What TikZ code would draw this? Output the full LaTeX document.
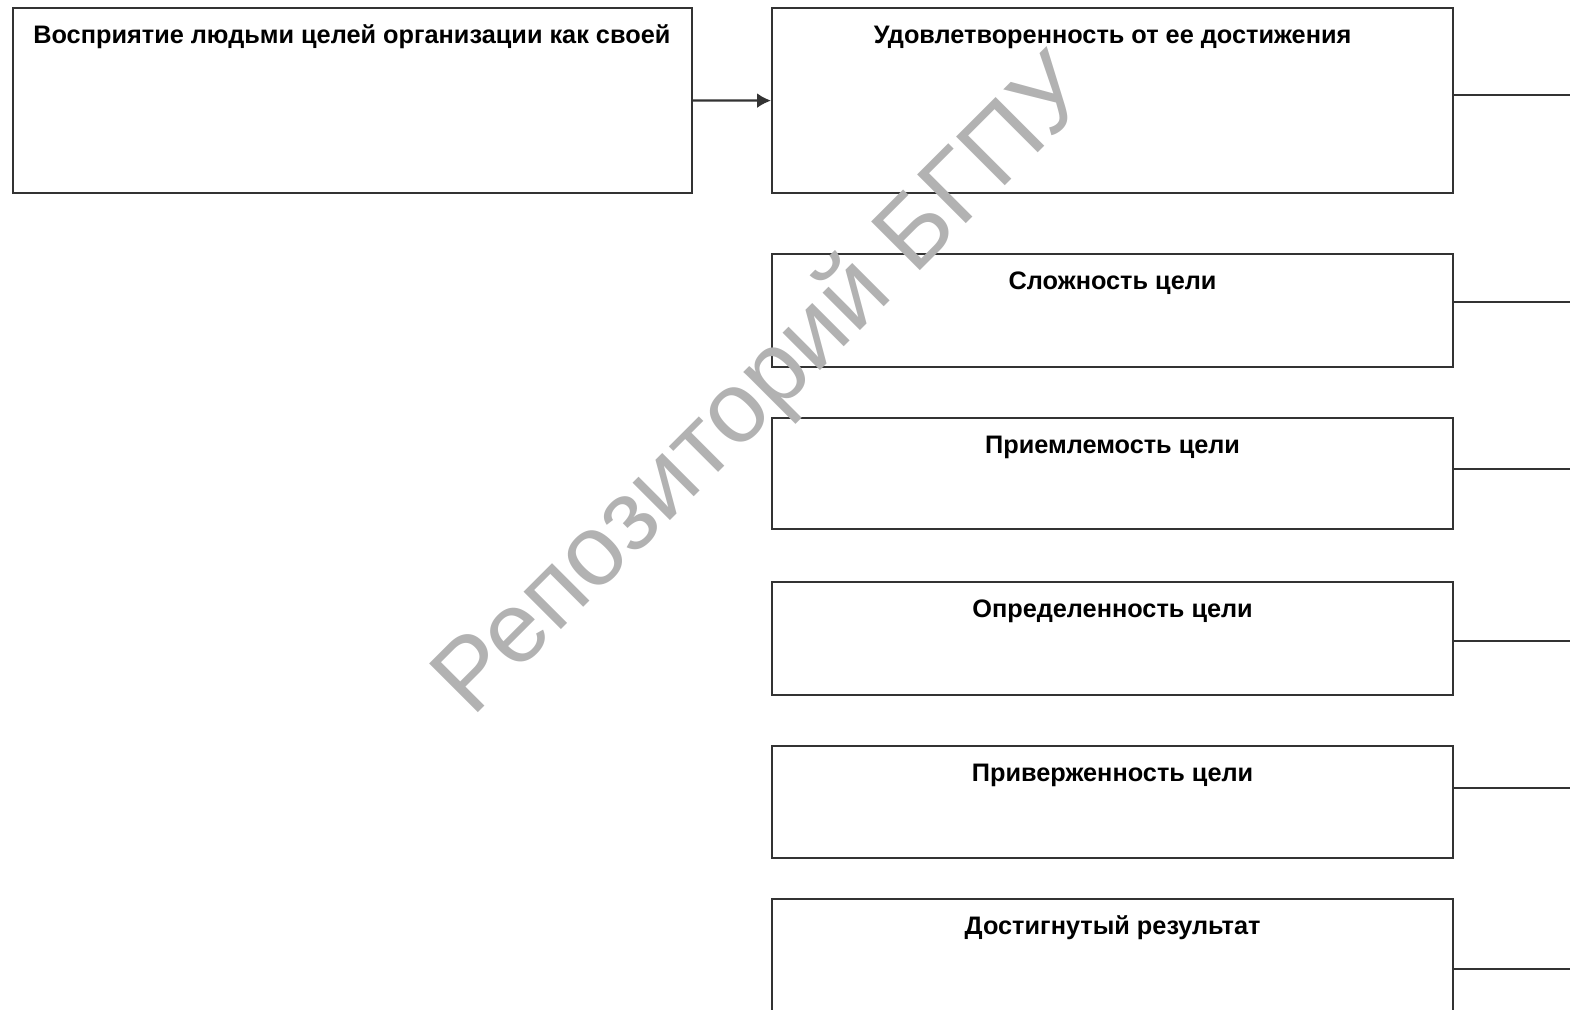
\documentclass[tikz,border=0pt]{standalone}
\usepackage{fontspec}
\setmainfont{Liberation Sans}
\usetikzlibrary{arrows.meta}

\newcommand{\xmin}{0}
\newcommand{\xmax}{1570}
\newcommand{\ymin}{0}
\newcommand{\ymax}{1010}
\newcommand{\bxl}{771}

\tikzset{
  frame/.style={draw=black!80, line width=0.045cm, anchor=north west, inner sep=0pt},
  caption/.style={font=\bfseries\fontsize{14.4}{16}\selectfont, inner sep=0pt, anchor=base},
  link/.style={draw=black!80, line width=0.045cm},
}

\begin{document}
\begin{tikzpicture}[x=0.02cm,y=-0.02cm]
  \useasboundingbox (\xmin,\ymin) rectangle (\xmax,\ymax);
  \node[frame, minimum width=13.58cm, minimum height=3.7cm] (goal) at (12,7) {};
  \node[caption, anchor=base west] (tgoal) at (33,44) {Восприятие людьми целей организации как своей};
  \foreach \n/\top/\hgt/\lny/\txt in {
    1/7/185/95/Удовлетворенность от ее достижения,
    2/253/113/302/Сложность цели,
    3/417/111/469/Приемлемость цели,
    4/581/113/641/Определенность цели,
    5/745/112/788/Приверженность цели,
    6/898/140/969/Достигнутый результат}
  {
    \node[frame, minimum width=13.62cm, minimum height=\hgt*0.02cm] (b\n) at (\bxl,\top) {};
    \node[caption] (t\n) at ([yshift=-0.74cm]b\n.north) {\txt};
    \coordinate (r\n) at (\xmax,\lny);
    \draw[link] (r\n -| b\n.east) -- (r\n);
  }
  \draw[link, -{Latex[length=0.28cm,width=0.3cm]}] (goal.east) -- (b1.west);
  \node[text=black!30, rotate=45, font=\fontsize{57}{66}\selectfont] (mark) at (765,388) {Репозиторий БГПУ};
\end{tikzpicture}
\end{document}
